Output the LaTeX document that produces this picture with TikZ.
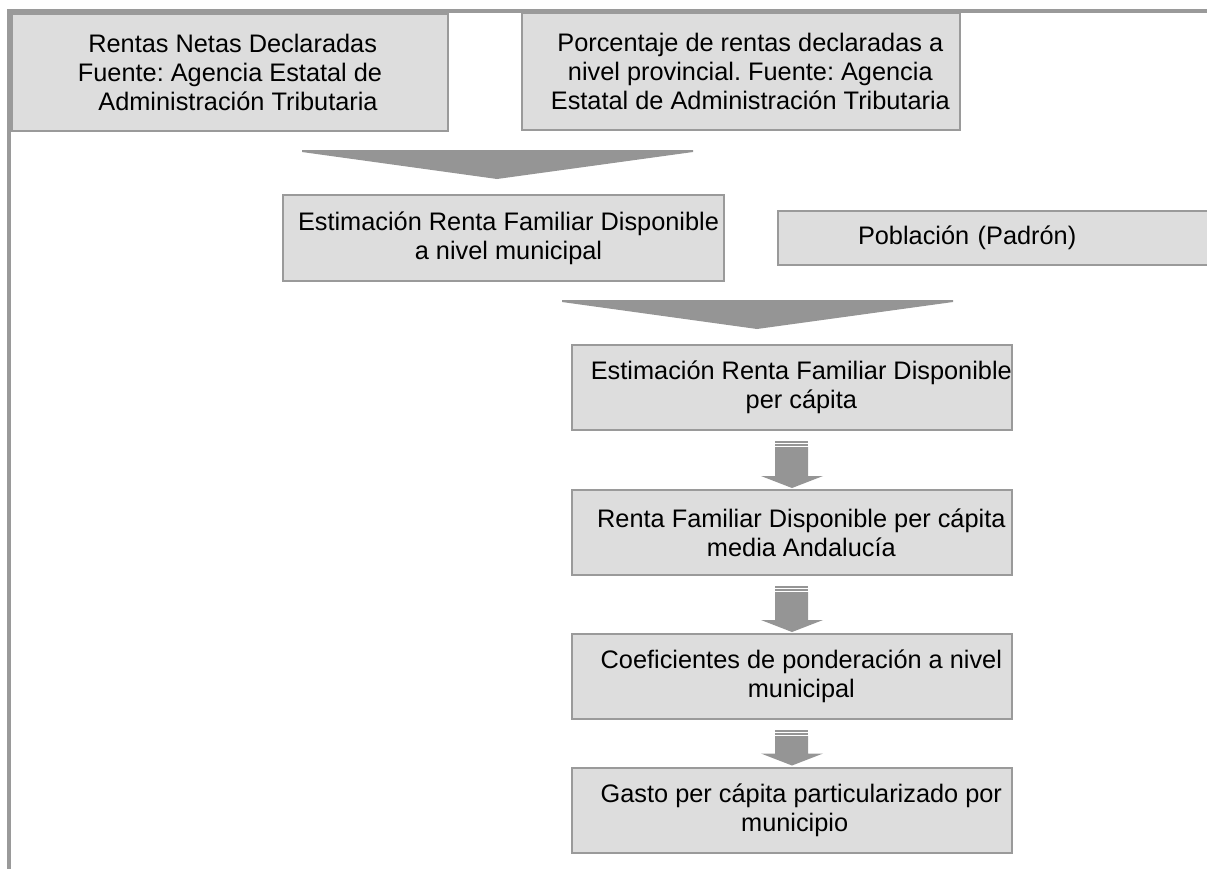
\documentclass[tikz,border=0pt]{standalone}
\usepackage{fontspec}
\setmainfont{Liberation Sans}
\usetikzlibrary{calc,positioning}
\definecolor{boxfill}{HTML}{DDDDDD}
\definecolor{boxline}{HTML}{9A9A9A}
\definecolor{arrowgray}{HTML}{959595}
\definecolor{framegray}{HTML}{9A9A9A}
\tikzset{
  stage/.style={
      rectangle,
      inner sep=0pt,
      minimum width=330pt,
      minimum height=63.75pt,
      line width=1.5pt,
      draw=boxline,
      fill=boxfill,
      align=center,
      font=\fontsize{19}{21.6}\selectfont\frenchspacing
  }
}
\newcommand{\sh}{\hspace*{14pt}}
\newcommand{\stagearrow}[2]{%
  \fill[arrowgray] ($(#1.south)+(-17,10)$) rectangle ($(#1.south)+(16,11.5)$);
  \fill[arrowgray] ($(#1.south)+(-17,13)$) rectangle ($(#1.south)+(16,14.5)$);
  \fill[arrowgray] ($(#1.south)+(-17,16)$) -- ($(#1.south)+(16,16)$)
    -- ($(#2.north)+(16,-13)$) -- ($(#2.north)+(31,-13)$) -- ($(#2.north)+(0,-1)$)
    -- ($(#2.north)+(-31,-13)$) -- ($(#2.north)+(-17,-13)$) -- cycle;
}
\newcommand{\mergearrow}[2]{%
  \fill[arrowgray] ($(#1.north)+(#2-195,-44)$) -- ($(#1.north)+(#2+196,-44)$)
    -- ($(#1.north)+(#2+196,-42)$) -- ($(#1.north)+(#2,-15)$)
    -- ($(#1.north)+(#2-195,-42)$) -- cycle;
}

\begin{document}
\begin{tikzpicture}[x=0.75pt,y=-0.75pt]
    \useasboundingbox (0,0) rectangle (1207,869);
    \clip (0,0) rectangle (1207,869);
    \draw[framegray,line width=2.4pt] (1207,11) -- (9,11) -- (9,869);

    \node[stage,minimum width=327pt,minimum height=87.75pt] (rentas) at (230,72.5)
      {\hspace*{4pt}Rentas Netas Declaradas\\Fuente: Agencia Estatal de\hspace*{27pt}\\\hspace*{12pt}Administración Tributaria};
    \node[stage,minimum width=328.5pt,minimum height=87.75pt] (porcentaje) at (741,71.5)
      {\sh Porcentaje de rentas declaradas a\\\sh nivel provincial. Fuente: Agencia\\\sh Estatal de Administración Tributaria};
    \node[stage,minimum width=330.75pt,minimum height=64.5pt] (rfdmun) at (503.5,238)
      {\hspace*{7.5pt}Estimación Renta Familiar Disponible\\\hspace*{7.5pt}a nivel municipal};
    \node[stage,anchor=north west,minimum height=40.5pt,text width=330pt,align=left] (poblacion) at (777,210)
      {\hspace*{60pt}Población (Padrón)};
    \node[stage] (rfdpc) at (792,387.5)
      {\sh Estimación Renta Familiar Disponible\\\sh per cápita};
    \node[stage] (media) at (792,532.5)
      {\sh Renta Familiar Disponible per cápita\\\sh media Andalucía};
    \node[stage] (coef) at (792,676.5)
      {\sh Coeficientes de ponderación a nivel\\\sh municipal};
    \node[stage] (gasto) at (792,810)
      {\sh Gasto per cápita particularizado por\\\hspace*{4pt}municipio};

    \mergearrow{rfdmun}{-6.5}
    \mergearrow{rfdpc}{-35}
    \stagearrow{rfdpc}{media}
    \stagearrow{media}{coef}
    \stagearrow{coef}{gasto}
\end{tikzpicture}
\end{document}
